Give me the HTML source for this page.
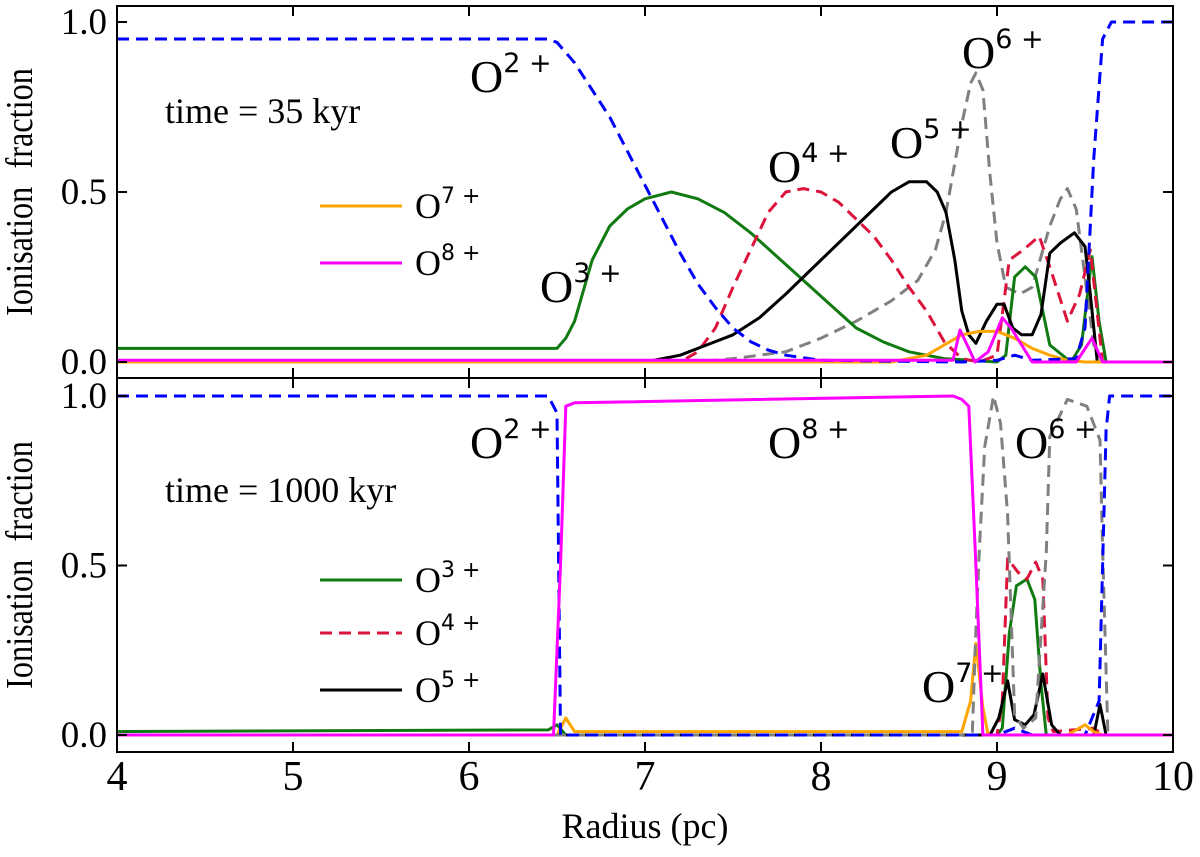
<!DOCTYPE html>
<html><head><meta charset="utf-8"><style>
body{margin:0;background:#fff}
svg{display:block}
.tk{font-family:"Liberation Serif",serif;font-size:36px;fill:#000}
.lab{font-family:"Liberation Serif",serif;font-size:46px;fill:#000}
.sup{font-family:"DejaVu Sans","Liberation Sans",sans-serif;font-size:27px}
</style></head><body>
<svg id="c" width="1200" height="857" viewBox="0 0 1200 857"></svg>
<script>
// ---- data: top panel (35 kyr) ----
const topO2x=[4,6.45,6.5,6.6,6.7,6.8,6.9,7.0,7.1,7.2,7.3,7.4,7.5,7.6,7.7,7.8,8.0,8.8,9.0,9.1,9.2,9.45,9.5,9.55,9.6,9.65,10];
const topO2y=[0.95,0.95,0.94,0.88,0.8,0.72,0.62,0.52,0.42,0.32,0.23,0.16,0.1,0.06,0.035,0.02,0.005,0,0.005,0.02,0.005,0.01,0.1,0.6,0.95,1.0,1.0];
const topO3x=[4,6.5,6.55,6.6,6.65,6.7,6.8,6.9,7.0,7.15,7.3,7.45,7.6,7.75,7.9,8.05,8.2,8.35,8.5,8.7,9.0,9.05,9.1,9.16,9.22,9.3,9.42,9.48,9.54,9.58,9.62,10];
const topO3y=[0.04,0.04,0.07,0.12,0.21,0.3,0.4,0.45,0.48,0.5,0.48,0.44,0.38,0.31,0.24,0.17,0.1,0.06,0.03,0.01,0,0.02,0.25,0.28,0.25,0.05,0,0.05,0.31,0.12,0,0];
const topO4x=[4,7.2,7.3,7.4,7.5,7.6,7.7,7.8,7.9,8.0,8.1,8.2,8.3,8.4,8.5,8.6,8.7,8.8,8.9,9.0,9.07,9.15,9.24,9.3,9.4,9.47,9.53,9.6,10];
const topO4y=[0,0,0.03,0.1,0.22,0.33,0.44,0.5,0.51,0.5,0.47,0.42,0.37,0.3,0.22,0.15,0.06,0.01,0,0.02,0.3,0.33,0.37,0.28,0.12,0.2,0.33,0,0];
const topO5x=[4,7.0,7.2,7.35,7.5,7.65,7.8,8.0,8.2,8.4,8.5,8.6,8.66,8.71,8.76,8.8,8.84,8.88,8.94,9.0,9.04,9.09,9.14,9.2,9.25,9.3,9.36,9.44,9.5,9.53,9.57,10];
const topO5y=[0,0,0.02,0.05,0.08,0.13,0.2,0.3,0.4,0.5,0.53,0.53,0.5,0.44,0.3,0.15,0.08,0.055,0.12,0.17,0.17,0.1,0.08,0.08,0.14,0.32,0.35,0.38,0.34,0.2,0,0];
const topO6x=[4,7.3,7.5,7.8,8.0,8.2,8.4,8.55,8.65,8.71,8.8,8.85,8.88,8.92,8.96,9.0,9.05,9.13,9.2,9.3,9.36,9.4,9.45,9.5,9.55,9.6,10];
const topO6y=[0,0,0.01,0.03,0.07,0.12,0.18,0.24,0.33,0.44,0.7,0.82,0.85,0.8,0.55,0.35,0.22,0.2,0.22,0.4,0.48,0.51,0.45,0.25,0.05,0,0];
const topO7x=[4,8.4,8.6,8.7,8.8,8.9,9.0,9.1,9.2,9.3,9.4,9.5,10];
const topO7y=[0,0,0.02,0.05,0.08,0.09,0.09,0.07,0.04,0.02,0.005,0,0];
const topO8x=[4,8.75,8.79,8.84,8.875,8.95,9.03,9.08,9.2,9.45,9.54,9.6,10];
const topO8y=[0.005,0.005,0.094,0.04,0,0.03,0.13,0.1,0,0,0.07,0,0];
// ---- data: bottom panel (1000 kyr) ----
const botO2x=[4,6.45,6.5,6.52,9.0,9.1,9.2,9.5,9.58,9.6,9.62,9.64,10];
const botO2y=[1.0,1.0,0.95,0,0,0.02,0,0,0.1,0.5,0.9,1.0,1.0];
const botO3x=[4,6.45,6.5,6.55,9.0,9.03,9.07,9.11,9.17,9.215,9.25,9.28,10];
const botO3y=[0.01,0.015,0.03,0,0,0.02,0.3,0.44,0.46,0.4,0.15,0,0];
const botO4x=[4,9.0,9.03,9.06,9.12,9.17,9.22,9.26,9.29,9.32,9.55,9.6,10];
const botO4y=[0,0,0.1,0.52,0.48,0.46,0.51,0.46,0.05,0.01,0.02,0,0];
const botO5x=[4,8.96,9.01,9.06,9.1,9.16,9.21,9.26,9.31,9.36,9.55,9.585,9.62,10];
const botO5y=[0,0,0.05,0.16,0.045,0.03,0.06,0.18,0.03,0,0,0.09,0,0];
const botO6x=[4,8.8,8.86,8.88,8.9,8.93,8.98,9.02,9.06,9.1,9.15,9.22,9.28,9.3,9.4,9.51,9.585,9.6,9.63,10];
const botO6y=[0,0,0.01,0.31,0.55,0.85,1.0,0.92,0.65,0.06,0.02,0.05,0.54,0.88,0.99,0.97,0.87,0.55,0,0];
const botO7x=[4,6.5,6.55,6.6,8.7,8.8,8.85,8.88,8.92,8.95,9.4,9.5,9.55,9.6,10];
const botO7y=[0,0,0.05,0.01,0.01,0.01,0.1,0.27,0.08,0,0,0.03,0.01,0,0];
const botO8x=[4,6.48,6.52,6.55,6.6,8.75,8.8,8.84,8.88,8.92,10];
const botO8y=[0,0,0.5,0.97,0.98,1.0,0.99,0.97,0.5,0,0];
const xTicks=[4,5,6,7,8,9,10];
const yTicks=[0,0.5,1.0];
const yTickLabels=["0.0","0.5","1.0"];

const NS="http://www.w3.org/2000/svg";
const svg=document.getElementById('c');
function mk(t,a,p){const e=document.createElementNS(NS,t);for(const k in a)e.setAttribute(k,a[k]);(p||svg).appendChild(e);return e;}
const X0=117,X1=1173;
const sx=v=>X0+(v-4)*(X1-X0)/6;
const panels=[{top:6,bot:378,y0:362,y1:22},{top:378,bot:752,y0:735,y1:396}];
const colors={O2:"#0000ff",O3:"#117a11",O4:"#dc143c",O5:"#000",O6:"#808080",O7:"#ffa500",O8:"#ff00ff"};
const dashed={O2:true,O4:true,O6:true};
function series(p,xs,ys,key,name){
  const sy=v=>p.y0+(p.y1-p.y0)*v;
  const d=xs.map((x,i)=>(i?"L":"M")+sx(x).toFixed(1)+","+sy(ys[i]).toFixed(1)).join("");
  const e=mk("path",{d,fill:"none",stroke:colors[key],"stroke-width":3,"stroke-dasharray":dashed[key]?"12,7":"none","stroke-linejoin":"round"});
  
  
}
const topS=[["O6",topO6x,topO6y],["O3",topO3x,topO3y],["O4",topO4x,topO4y],["O5",topO5x,topO5y],["O7",topO7x,topO7y],["O2",topO2x,topO2y],["O8",topO8x,topO8y]];
const botS=[["O3",botO3x,botO3y],["O4",botO4x,botO4y],["O5",botO5x,botO5y],["O7",botO7x,botO7y],["O6",botO6x,botO6y],["O2",botO2x,botO2y],["O8",botO8x,botO8y]];
topS.forEach(s=>series(panels[0],s[1],s[2],s[0],"top-"+s[0].toLowerCase()+"-line"));
botS.forEach(s=>series(panels[1],s[1],s[2],s[0],"bottom-"+s[0].toLowerCase()+"-line"));

panels.forEach((p,pi)=>{
  const r=mk("rect",{x:X0,y:p.top,width:X1-X0,height:p.bot-p.top,fill:"none",stroke:"#000","stroke-width":2});
  
  
  xTicks.forEach(t=>{
    if(t===4||t===10)return;
    mk("line",{x1:sx(t),x2:sx(t),y1:p.bot,y2:p.bot-10,stroke:"#000","stroke-width":2});
    mk("line",{x1:sx(t),x2:sx(t),y1:p.top,y2:p.top+10,stroke:"#000","stroke-width":2});
  });
  yTicks.forEach((t,i)=>{
    const y=p.y0+(p.y1-p.y0)*t;
    mk("line",{x1:X0,x2:X0+10,y1:y,y2:y,stroke:"#000","stroke-width":2});
    mk("line",{x1:X1,x2:X1-10,y1:y,y2:y,stroke:"#000","stroke-width":2});
    const tl=mk("text",{x:X0-10,y:y+12,"text-anchor":"end",class:"tk",style:"font-size:37px"});tl.textContent=yTickLabels[i];
    
    
  });
  const yl=mk("text",{x:0,y:0,class:"tk","text-anchor":"middle",transform:`translate(32,${(p.top+p.bot)/2}) rotate(-90) scale(0.85,1)`,style:"font-size:38px;word-spacing:12px"});
  yl.textContent="Ionisation  fraction";
  
  
});
xTicks.forEach(t=>{
  const e=mk("text",{x:sx(t),y:790,"text-anchor":"middle",class:"tk",style:"font-size:42px"});e.textContent=t;
  
  
});
const xl=mk("text",{x:645,y:838,"text-anchor":"middle",class:"tk",style:"font-size:36px"});xl.textContent="Radius (pc)";



function ion(x,y,n,name){
  const t=mk("text",{x,y,class:"lab"});
  t.appendChild(document.createTextNode("O"));
  const s=mk("tspan",{class:"sup",dy:-20},t);s.textContent=n+" +";
  
  
}
ion(470,92,2,"label-o2-top");ion(540,302,3,"label-o3-top");ion(768,182,4,"label-o4-top");ion(890,158,5,"label-o5-top");ion(962,68,6,"label-o6-top");
ion(470,458,2,"label-o2-bottom");ion(768,458,8,"label-o8-bottom");ion(1015,458,6,"label-o6-bottom");ion(922,702,7,"label-o7-bottom");
function txt(x,y,s,name){const t=mk("text",{x,y,class:"tk"});t.textContent=s;
  
  }
txt(165,123,"time = 35 kyr","time-label-top");
txt(165,502,"time = 1000 kyr","time-label-bottom");
function leg(y,key,n,name){
  const l=mk("line",{x1:320,x2:402,y1:y,y2:y,stroke:colors[key],"stroke-width":3,"stroke-dasharray":dashed[key]?"12,7":"none"});
  
  
  const t=mk("text",{x:415,y:y+12,class:"tk",style:"font-size:36px"});
  t.appendChild(document.createTextNode("O"));
  const s=mk("tspan",{class:"sup",dy:-15,style:"font-size:22px"},t);s.textContent=n+" +";
  
  
}
leg(206,"O7",7,"legend-entry-o7");leg(263,"O8",8,"legend-entry-o8");
leg(580,"O3",3,"legend-entry-o3");leg(633,"O4",4,"legend-entry-o4");leg(690,"O5",5,"legend-entry-o5");
</script>
</body></html>
